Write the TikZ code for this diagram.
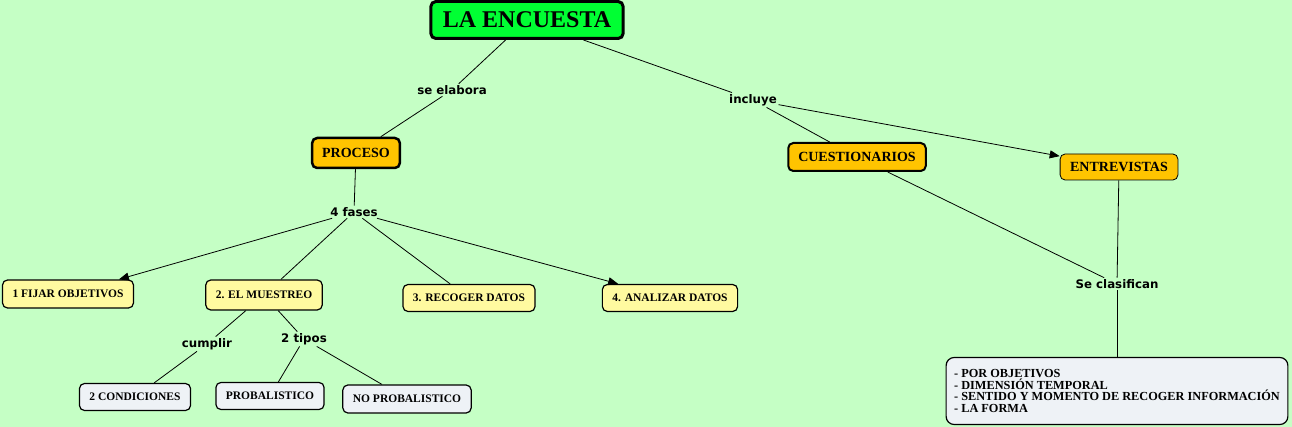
\documentclass[tikz,border=0pt]{standalone}
\usepackage{fontspec}
\setmainfont{Liberation Serif}
\newfontfamily\linkfont{DejaVu Sans}
\usetikzlibrary{arrows.meta,positioning}
\definecolor{mapbg}{RGB}{197,255,197}
\definecolor{rootgreen}{RGB}{0,255,51}
\definecolor{conceptorange}{RGB}{255,196,0}
\definecolor{phaseyellow}{RGB}{255,250,160}
\definecolor{leafgray}{RGB}{238,242,246}
\tikzset{
  mapbox/.style={
    draw=black,
    rounded corners=5pt,
    line width=1.2pt,
    align=center,
    inner xsep=10pt,
    inner ysep=0pt,
    font=\bfseries\fontsize{11.5}{13}\selectfont
  },
  maproot/.style={mapbox, fill=rootgreen, line width=3pt, minimum height=37pt, inner xsep=12pt, font=\bfseries\fontsize{24}{28}\selectfont},
  mapmain/.style={mapbox, fill=conceptorange, minimum height=28pt, font=\bfseries\fontsize{14}{16}\selectfont},
  mapphase/.style={mapbox, fill=phaseyellow, minimum height=28pt},
  mapleaf/.style={mapbox, fill=leafgray, minimum height=27pt},
  maplink/.style={font=\linkfont\bfseries\fontsize{11.8}{13}\selectfont, inner sep=1.5pt},
  mapline/.style={line width=0.8pt, draw=black},
  maparrow/.style={mapline, -{Triangle[length=10pt,width=8pt]}}
}

\begin{document}
\begin{tikzpicture}[on grid]
    \fill[mapbg] (0pt,0pt) rectangle (1292pt,-427pt);
    \useasboundingbox (0pt,0pt) rectangle (1292pt,-427pt);

    \node[maproot] (encuesta) at (527pt,-20pt) {LA ENCUESTA};

    % left branch
    \node[maplink, below left=70pt and 75pt of encuesta] (elabora) {se elabora};
    \node[mapmain, below left=63pt and 96pt of elabora, line width=2.5pt, minimum height=30pt] (proceso) {PROCESO};
    \node[maplink, below=59pt of proceso, xshift=-2pt] (fases) {4 fases};

    \node[mapphase, below left=82pt and 286pt of fases] (fijar) {1 FIJAR OBJETIVOS};
    \node[mapphase, below left=83pt and 90pt of fases, minimum height=30pt] (muestreo) {2. EL MUESTREO};
    \node[mapphase, below right=86pt and 115pt of fases, minimum height=27pt] (recoger) {3. RECOGER DATOS};
    \node[mapphase, below right=86pt and 316pt of fases, minimum height=27pt] (analizar) {4. ANALIZAR DATOS};

    \node[maplink, below left=49pt and 57pt of muestreo] (cumplir) {cumplir};
    \node[maplink, below right=44pt and 40pt of muestreo] (tipos) {2 tipos};

    \node[mapleaf, below left=53pt and 72pt of cumplir] (condiciones) {2 CONDICIONES};
    \node[mapleaf, below left=57pt and 34pt of tipos] (probal) {PROBALISTICO};
    \node[mapleaf, below right=60pt and 103pt of tipos, minimum height=28pt] (noprobal) {NO PROBALISTICO};

    % right branch
    \node[maplink, below right=80pt and 226pt of encuesta] (incluye) {incluye};
    \node[mapmain, below right=57pt and 104pt of incluye, line width=2pt] (cuest) {CUESTIONARIOS};
    \node[mapmain, below right=67pt and 366pt of incluye, line width=0.8pt, minimum height=26pt] (entrev) {ENTREVISTAS};

    \node[maplink, below=117pt of entrev, xshift=-2pt] (clasif) {Se clasifican};
    \node[mapleaf, below=107pt of clasif, align=left, inner xsep=8pt, minimum height=67pt,
          rounded corners=8pt, font=\bfseries\fontsize{12.3}{11.7}\selectfont] (tiposlista)
      {- POR OBJETIVOS\\- DIMENSIÓN TEMPORAL\\- SENTIDO Y MOMENTO DE RECOGER INFORMACIÓN\\- LA FORMA};

    \draw[mapline] (encuesta) -- (elabora);
    \draw[mapline] (elabora) -- (proceso);
    \draw[mapline] (proceso) -- (fases);

    \draw[maparrow] (fases) -- (fijar);
    \draw[mapline] (fases) -- (muestreo);
    \draw[mapline] (fases) -- (recoger);
    \draw[maparrow] (fases) -- (analizar);

    \draw[mapline] (muestreo) -- (cumplir);
    \draw[mapline] (cumplir) -- (condiciones);
    \draw[mapline] (muestreo) -- (tipos);
    \draw[mapline] (tipos) -- (probal);
    \draw[mapline] (tipos) -- (noprobal);

    \draw[mapline] (encuesta) -- (incluye);
    \draw[mapline] (incluye) -- (cuest);
    \draw[maparrow] (incluye) -- (entrev);

    \draw[mapline] (cuest) -- (clasif);
    \draw[mapline] (entrev) -- (clasif);
    \draw[mapline] (clasif) -- (tiposlista);
  \end{tikzpicture}
\end{document}
